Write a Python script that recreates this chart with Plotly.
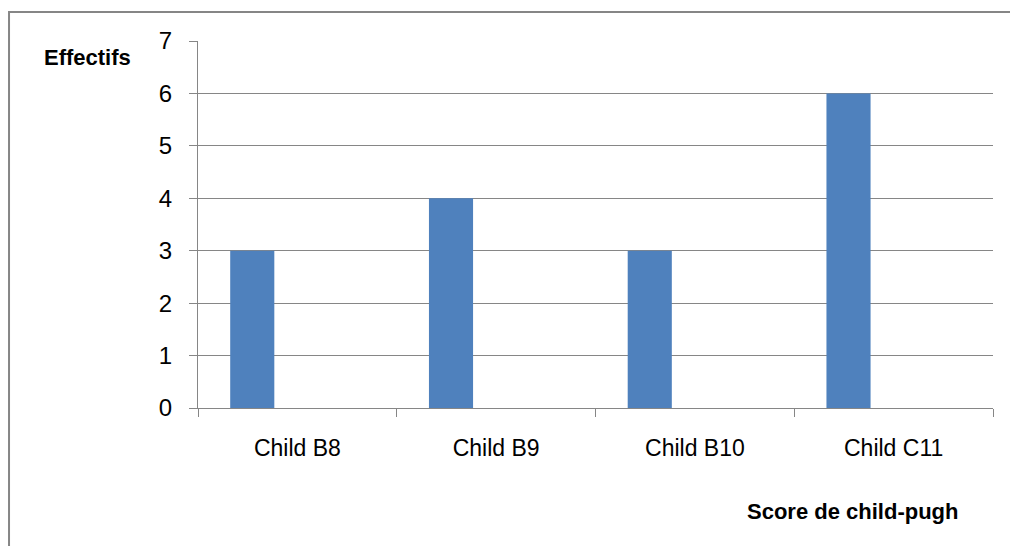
import plotly.graph_objects as go

# Child-Pugh score categories and patient counts
categories = ["Child B8", "Child B9", "Child B10", "Child C11"]
counts = [3, 4, 3, 6]
y_ticks = [0, 1, 2, 3, 4, 5, 6, 7]

FONT = "Liberation Sans, Arial, sans-serif"
GRID = "#868686"

fig = go.Figure()
fig.add_trace(go.Bar(
    x=categories,
    y=counts,
    marker=dict(color="#4F81BD", line=dict(width=0)),
    width=0.222,
    offset=-0.338,
    hoverinfo="x+y",
))

fig.update_layout(
    width=1010,
    height=546,
    margin=dict(l=198, r=17, t=41, b=138),
    paper_bgcolor="white",
    plot_bgcolor="white",
    showlegend=False,
    font=dict(family=FONT, color="black"),
    xaxis=dict(
        type="category",
        showgrid=False,
        showline=True,
        linecolor=GRID,
        linewidth=1,
        ticks="outside",
        tickson="boundaries",
        ticklen=8,
        tickcolor=GRID,
        tickfont=dict(size=23),
        ticklabelstandoff=19,
        zeroline=False,
    ),
    yaxis=dict(
        range=[0, 7],
        tickvals=y_ticks,
        showgrid=True,
        gridcolor=GRID,
        gridwidth=1,
        showline=True,
        linecolor=GRID,
        linewidth=1,
        ticks="outside",
        ticklen=8,
        tickcolor=GRID,
        tickfont=dict(size=24),
        ticklabelstandoff=12,
        zeroline=False,
    ),
    shapes=[
        # outer chart frame
        dict(type="rect", xref="paper", yref="paper",
             x0=-0.2377, x1=1.03, y0=-0.40, y1=1.079,
             line=dict(color=GRID, width=2), fillcolor="rgba(0,0,0,0)",
             layer="below"),
    ],
    annotations=[
        dict(text="<b>Effectifs</b>", xref="paper", yref="paper",
             x=-0.196, y=0.956, xanchor="left", yanchor="middle",
             showarrow=False, font=dict(size=22, family=FONT)),
        dict(text="<b>Score de child-pugh</b>", xref="paper", yref="paper",
             x=0.958, y=-0.283, xanchor="right", yanchor="middle",
             showarrow=False, font=dict(size=22, family=FONT)),
    ],
)

fig.write_html("out.html")
